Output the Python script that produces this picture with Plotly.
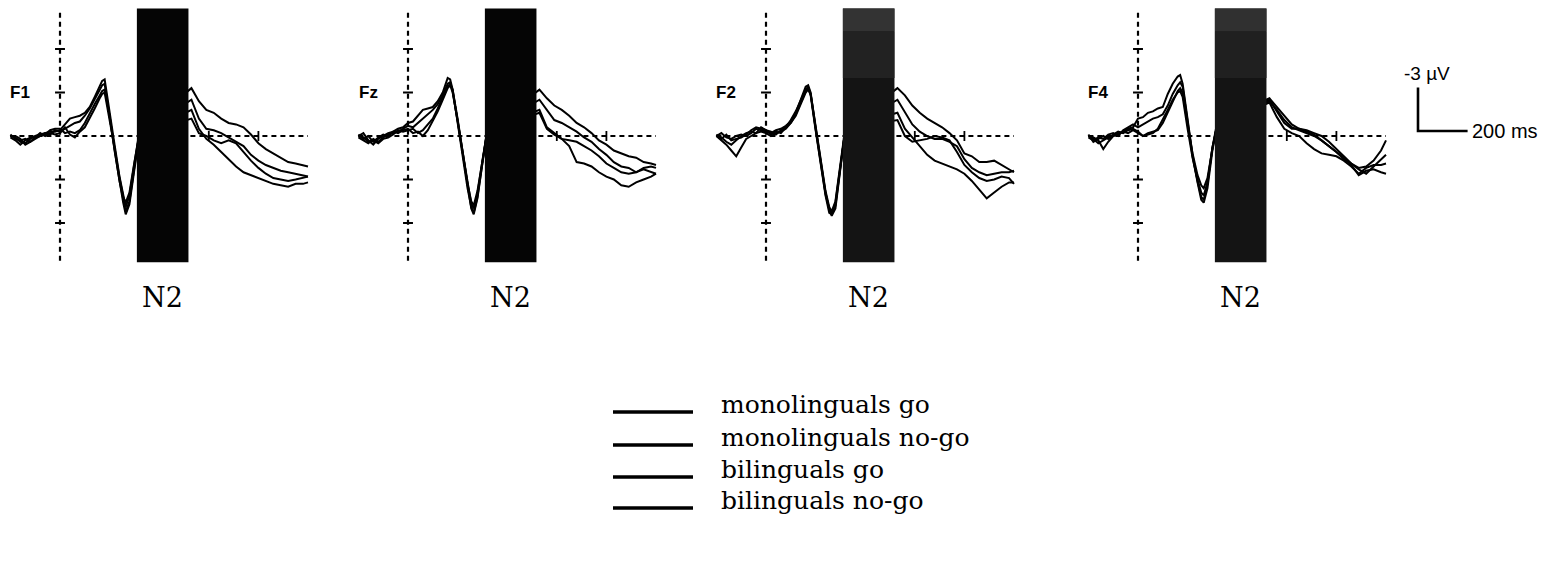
import plotly.graph_objects as go

# ---------------- data ----------------
times_ms = [-200, -180, -160, -140, -120, -100, -80, -60, -40, -20,
            0, 20, 40, 60, 80, 100, 120, 140, 160, 170, 180, 200, 220, 240,
            255, 265, 280, 300, 320,
            530, 560, 590, 620, 650, 680, 710, 740, 770, 800, 830, 860, 890,
            920, 950, 980, 1000]

channels = ["F1", "Fz", "F2", "F4"]
series_names = ["monolinguals go", "monolinguals no-go", "bilinguals go", "bilinguals no-go"]
n2_window_ms = [310, 518]
amp_ticks_uv = [-6, -3, 3, 6]
time_ticks_ms = [600, 800]
scale_uv = -3
scale_ms = 200

# amplitudes in microvolts (negative plotted up)
f1_mono_go = [0.0, 0.1, 0.4, 0.5, 0.2, 0.0, -0.1, -0.2, -0.3, -0.3,
              -0.4, -0.8, -1.2, -1.3, -1.4, -1.6, -2.0, -2.7, -3.4, -3.8, -3.9, -1.8, 0.6, 2.8,
              4.2, 4.9, 4.1, 1.9, -0.3,
              -3.3, -2.4, -1.8, -1.6, -1.2, -0.9, -0.8, -0.6, -0.1, 0.5, 0.9, 1.2, 1.5, 1.8, 1.9, 2.0, 2.1]
f1_mono_nogo = [0.1, 0.3, 0.6, 0.3, 0.1, 0.1, 0.0, -0.2, -0.1, -0.4,
                -0.3, -0.5, -0.7, -0.9, -1.0, -1.4, -1.9, -2.5, -3.1, -3.5, -3.6, -1.5, 0.9, 3.1,
                4.5, 5.2, 4.5, 2.1, -0.2,
                -2.5, -1.2, -0.5, -0.4, -0.2, 0.1, 0.4, 0.7, 1.3, 1.7, 2.0, 2.2, 2.4, 2.5, 2.6, 2.7, 2.8]
f1_bi_go = [0.0, 0.0, 0.2, 0.6, 0.4, 0.2, 0.0, -0.1, -0.4, -0.5,
            -0.5, -0.2, -0.3, -0.2, -0.4, -0.9, -1.6, -2.2, -2.8, -3.1, -3.2, -1.4, 1.0, 3.2,
            4.6, 5.4, 4.7, 2.3, 0.0,
            -1.8, -0.5, 0.2, 0.6, 1.1, 1.6, 2.1, 2.5, 2.7, 2.9, 3.1, 3.3, 3.4, 3.5, 3.3, 3.3, 3.2]
f1_bi_nogo = [-0.1, 0.2, 0.3, 0.2, 0.4, 0.1, -0.2, 0.0, -0.2, -0.1,
              -0.2, -0.6, -0.1, 0.1, -0.3, -0.6, -1.2, -1.9, -2.6, -2.9, -3.0, -1.2, 0.8, 2.9,
              4.2, 4.6, 3.9, 1.8, -0.1,
              -1.2, -0.2, 0.0, 0.3, 0.5, 0.3, 0.5, 1.1, 1.7, 2.2, 2.6, 2.9, 3.0, 3.1, 3.0, 2.9, 2.8]

fz_mono_go = [0.0, -0.2, 0.3, 0.6, 0.2, 0.0, -0.2, -0.3, -0.5, -0.6,
              -0.9, -1.0, -1.4, -1.8, -1.9, -2.0, -2.4, -3.0, -4.0, -3.9, -3.2, -0.9, 1.4, 3.6,
              4.9, 5.3, 4.2, 1.8, -0.5,
              -3.2, -2.6, -2.1, -1.8, -1.4, -0.9, -0.6, -0.2, 0.3, 0.6, 1.0, 1.2, 1.4, 1.5, 1.8, 1.9, 2.0]
fz_mono_nogo = [0.1, 0.3, 0.5, 0.2, 0.4, 0.1, -0.1, -0.2, -0.3, -0.5,
                -0.7, -0.6, -0.9, -1.2, -1.5, -1.8, -2.2, -2.8, -3.6, -3.7, -3.1, -1.0, 1.3, 3.4,
                4.7, 5.0, 4.0, 1.7, -0.4,
                -2.5, -1.8, -1.1, -0.9, -0.6, -0.3, 0.1, 0.4, 0.9, 1.3, 1.8, 2.1, 2.2, 2.5, 2.3, 2.5, 2.6]
fz_bi_go = [-0.1, 0.2, 0.0, 0.4, 0.1, -0.1, 0.0, -0.3, -0.2, -0.4,
            -0.5, -0.2, -0.3, 0.0, -0.4, -1.0, -1.7, -2.5, -3.3, -3.5, -3.0, -1.1, 1.2, 3.3,
            4.5, 4.8, 3.8, 1.6, -0.3,
            -1.8, -0.6, -0.2, 0.2, 0.7, 1.8, 1.9, 2.1, 2.5, 2.8, 3.0, 3.4, 3.5, 3.2, 3.0, 2.8, 2.6]
fz_bi_nogo = [0.0, 0.1, 0.4, 0.3, 0.5, 0.2, 0.1, -0.1, -0.4, -0.3,
              -0.4, -0.5, -0.2, -0.4, -0.8, -1.2, -1.9, -2.6, -3.4, -3.6, -3.2, -1.2, 1.1, 3.5,
              5.0, 5.4, 4.3, 1.9, -0.4,
              -1.6, -0.5, -0.1, 0.2, 0.3, 0.4, 0.7, 1.0, 1.4, 1.9, 2.2, 2.5, 2.6, 2.5, 2.2, 2.1, 2.2]

f2_mono_go = [0.0, -0.2, 0.1, 0.2, 0.0, -0.1, 0.0, -0.2, -0.5, -0.4,
              -0.3, -0.2, -0.4, -0.5, -0.7, -1.0, -1.6, -2.5, -3.4, -3.5, -3.0, -0.6, 1.8, 3.9,
              5.1, 5.5, 5.0, 2.2, -0.5,
              -3.3, -2.8, -2.1, -1.6, -1.2, -0.9, -0.6, -0.2, 0.3, 1.2, 1.4, 1.8, 1.8, 1.7, 2.0, 2.3, 2.5]
f2_mono_nogo = [0.0, 0.3, 0.6, 1.0, 1.4, 0.8, 0.2, 0.0, -0.2, -0.3,
                -0.2, 0.0, -0.2, -0.3, -0.5, -0.9, -1.5, -2.3, -3.1, -3.3, -2.8, -0.4, 2.0, 4.1,
                5.3, 5.4, 4.6, 2.0, -0.4,
                -2.5, -1.6, -0.8, -0.3, 0.0, 0.2, 0.2, 0.4, 0.7, 1.6, 2.2, 2.5, 2.7, 2.6, 2.5, 2.5, 2.4]
f2_bi_go = [-0.1, 0.2, -0.1, 0.3, 0.2, 0.1, -0.1, -0.4, -0.6, -0.5,
            -0.4, -0.1, -0.3, -0.2, -0.6, -0.9, -1.4, -2.2, -3.0, -3.2, -2.9, -0.7, 1.6, 3.8,
            4.9, 5.2, 4.5, 1.9, -0.6,
            -1.6, -0.5, 0.1, 0.7, 1.3, 1.7, 1.9, 2.1, 2.3, 2.6, 3.1, 3.7, 4.3, 3.9, 3.5, 3.2, 3.2]
f2_bi_nogo = [0.0, 0.1, 0.4, 0.6, 0.3, 0.0, -0.2, -0.3, -0.2, -0.6,
              -0.4, -0.3, -0.1, -0.4, -0.6, -1.1, -1.7, -2.4, -3.2, -3.4, -2.9, -0.5, 1.9, 4.0,
              5.0, 5.3, 4.8, 2.1, -0.5,
              -1.1, 0.0, 0.4, 0.3, 0.2, 0.0, 0.1, 0.3, 1.1, 2.0, 2.5, 2.9, 3.1, 3.0, 2.8, 2.9, 3.3]

f4_mono_go = [0.0, 0.1, 0.3, 0.9, 0.4, 0.0, -0.2, -0.3, -0.5, -0.6,
              -1.2, -1.3, -1.6, -1.7, -1.9, -2.0, -2.9, -3.6, -4.1, -4.2, -3.6, -1.0, 1.3, 3.1,
              4.2, 4.4, 3.3, 0.8, -1.0,
              -2.6, -2.0, -1.4, -0.8, -0.5, -0.4, -0.2, 0.0, 0.4, 0.9, 1.4, 1.9, 2.2, 2.1, 1.7, 1.0, 0.3]
f4_mono_nogo = [0.1, 0.3, 0.1, 0.2, -0.1, -0.2, 0.0, -0.4, -0.6, -0.8,
                -0.6, -0.8, -1.0, -1.2, -1.3, -1.5, -2.1, -2.9, -3.5, -3.7, -3.4, -0.9, 1.4, 3.2,
                4.4, 4.6, 3.6, 1.0, -0.9,
                -2.5, -1.7, -0.9, -0.5, -0.5, -0.3, -0.1, 0.3, 0.7, 1.1, 1.6, 1.9, 2.3, 2.6, 2.1, 1.6, 1.3]
f4_bi_go = [-0.1, 0.4, 0.2, 0.0, 0.2, -0.1, -0.3, -0.2, -0.4, -0.5,
            -0.3, 0.0, -0.2, -0.3, -0.4, -0.9, -1.6, -2.4, -3.1, -3.3, -3.0, -0.8, 1.2, 2.7,
            3.4, 3.6, 2.9, 0.9, -0.8,
            -2.3, -1.3, -0.5, -0.2, 0.0, 0.5, 0.9, 1.2, 1.3, 1.4, 1.7, 2.1, 2.6, 2.2, 2.0, 2.0, 1.9]
f4_bi_nogo = [0.0, 0.2, 0.5, 0.3, 0.1, 0.0, -0.1, -0.3, -0.2, -0.4,
              -0.2, 0.0, -0.1, -0.2, -0.5, -1.1, -1.8, -2.5, -3.0, -3.1, -2.7, -0.5, 1.5, 3.0,
              3.9, 4.1, 3.2, 0.8, -0.8,
              -2.4, -1.8, -1.1, -0.6, -0.4, -0.2, 0.0, 0.3, 0.7, 1.1, 1.5, 2.0, 2.7, 2.4, 2.3, 2.5, 2.6]

waves = {
    "F1": [f1_mono_go, f1_mono_nogo, f1_bi_go, f1_bi_nogo],
    "Fz": [fz_mono_go, fz_mono_nogo, fz_bi_go, fz_bi_nogo],
    "F2": [f2_mono_go, f2_mono_nogo, f2_bi_go, f2_bi_nogo],
    "F4": [f4_mono_go, f4_mono_nogo, f4_bi_go, f4_bi_nogo],
}

# ---------------- layout geometry (pixels) ----------------
W, H = 1551, 573
px_per_ms = 0.248
px_per_uv = 14.5
zero_px_x = [60, 408, 766, 1138]     # x pixel of time 0 in each panel
zero_px_y = 136                      # y pixel of 0 uV
x_range = [-215, 1015]
y_top_px, y_bot_px = 2.6, 269.4


def xdom(zero_px, lo, hi):
    return [(zero_px + lo * px_per_ms) / W, (zero_px + hi * px_per_ms) / W]


ydom = [1 - y_bot_px / H, 1 - y_top_px / H]
y_range = [(y_bot_px - zero_px_y) / px_per_uv, -(zero_px_y - y_top_px) / px_per_uv]  # reversed: negative up

fig = go.Figure()
layout_axes = {}
shapes = []
annotations = []

dash_style = "5px,4px"
box_fills = ["#050505", "#050505", "#141414", "#141414"]
box_top_fills = [None, None, ["#333333", "#222222"], ["#303030", "#202020"]]

for i, ch in enumerate(channels):
    n = i + 1
    xa = "x" if n == 1 else f"x{n}"
    ya = "y" if n == 1 else f"y{n}"
    layout_axes["xaxis" if n == 1 else f"xaxis{n}"] = dict(
        domain=xdom(zero_px_x[i], x_range[0], x_range[1]), range=x_range,
        visible=False, fixedrange=True, anchor=ya)
    layout_axes["yaxis" if n == 1 else f"yaxis{n}"] = dict(
        domain=ydom, range=y_range, visible=False, fixedrange=True, anchor=xa)

    # dashed zero lines
    fig.add_trace(go.Scatter(x=[times_ms[0], times_ms[-1]], y=[0, 0], mode="lines",
                             line=dict(color="black", width=2.2, dash=dash_style),
                             xaxis=xa, yaxis=ya, hoverinfo="skip"))
    fig.add_trace(go.Scatter(x=[0, 0], y=[-8.5, 8.8], mode="lines",
                             line=dict(color="black", width=2.2, dash=dash_style),
                             xaxis=xa, yaxis=ya, hoverinfo="skip"))
    # ticks
    tx, ty = [], []
    for t in amp_ticks_uv:
        tx += [-20, 20, None]
        ty += [t, t, None]
    for t in time_ticks_ms:
        tx += [t, t, None]
        ty += [-0.35, 0.35, None]
    fig.add_trace(go.Scatter(x=tx, y=ty, mode="lines", line=dict(color="black", width=1.8),
                             xaxis=xa, yaxis=ya, hoverinfo="skip"))

    # waveforms
    for k, vals in enumerate(waves[ch]):
        fig.add_trace(go.Scatter(x=times_ms, y=vals, mode="lines", name=series_names[k],
                                 line=dict(color="black", width=2.0),
                                 xaxis=xa, yaxis=ya))

    # N2 window box (drawn above the waves)
    shapes.append(dict(type="rect", xref=xa, yref=ya, x0=n2_window_ms[0], x1=n2_window_ms[1],
                       y0=-8.8, y1=8.7, fillcolor=box_fills[i], line=dict(width=0), layer="above"))
    if box_top_fills[i]:
        shapes.append(dict(type="rect", xref=xa, yref=ya, x0=n2_window_ms[0], x1=n2_window_ms[1],
                           y0=-8.8, y1=-7.2, fillcolor=box_top_fills[i][0], line=dict(width=0), layer="above"))
        shapes.append(dict(type="rect", xref=xa, yref=ya, x0=n2_window_ms[0], x1=n2_window_ms[1],
                           y0=-7.2, y1=-4.0, fillcolor=box_top_fills[i][1], line=dict(width=0), layer="above"))

    # channel label
    annotations.append(dict(x=-112, y=-3, xref=xa, yref=ya, text=ch, showarrow=False,
                            xanchor="right", yanchor="middle",
                            font=dict(family="Liberation Sans", size=17, color="black", weight="bold")))
    # N2 label
    annotations.append(dict(x=sum(n2_window_ms) / 2, y=1 - 297 / H, xref=xa, yref="paper",
                            text="N2", showarrow=False, xanchor="center", yanchor="middle",
                            font=dict(family="DejaVu Serif", size=27, color="black")))

# scale bar axis
sb_zero_x, sb_zero_y = 1418, 131
sb_xr = [-100, 530]
layout_axes["xaxis5"] = dict(domain=xdom(sb_zero_x, sb_xr[0], sb_xr[1]), range=sb_xr,
                             visible=False, fixedrange=True, anchor="y5")
layout_axes["yaxis5"] = dict(domain=ydom,
                             range=[(y_bot_px - sb_zero_y) / px_per_uv, -(sb_zero_y - y_top_px) / px_per_uv],
                             visible=False, fixedrange=True, anchor="x5")
fig.add_trace(go.Scatter(x=[0, 0, scale_ms], y=[scale_uv, 0, 0], mode="lines",
                         line=dict(color="black", width=2.6), xaxis="x5", yaxis="y5", hoverinfo="skip"))
annotations.append(dict(x=0, y=scale_uv, xref="x5", yref="y5", text=f"{scale_uv} µV", showarrow=False,
                        xanchor="center", yanchor="bottom", xshift=9, yshift=2,
                        font=dict(family="Liberation Sans", size=19, color="black")))
annotations.append(dict(x=scale_ms, y=0, xref="x5", yref="y5", text=f"{scale_ms} ms", showarrow=False,
                        xanchor="left", yanchor="middle", xshift=2,
                        font=dict(family="Liberation Sans", size=20, color="black")))

# legend (custom, long line samples)
leg_rows_px = [412, 445, 477, 508]
leg_widths = [3.5, 3.5, 3.5, 3.5]
for k, name in enumerate(series_names):
    yp = 1 - leg_rows_px[k] / H
    shapes.append(dict(type="line", xref="paper", yref="paper", x0=613 / W, x1=693 / W, y0=yp, y1=yp,
                       line=dict(color="black", width=leg_widths[k])))
    annotations.append(dict(x=719 / W, y=1 - (leg_rows_px[k] - 8) / H, xref="paper", yref="paper",
                            text=name, showarrow=False, xanchor="left", yanchor="middle",
                            font=dict(family="DejaVu Serif", size=25, color="black")))

fig.update_layout(width=W, height=H, margin=dict(l=0, r=0, t=0, b=0),
                  paper_bgcolor="white", plot_bgcolor="white", showlegend=False,
                  shapes=shapes, annotations=annotations, **layout_axes)

fig.write_html("out.html")
